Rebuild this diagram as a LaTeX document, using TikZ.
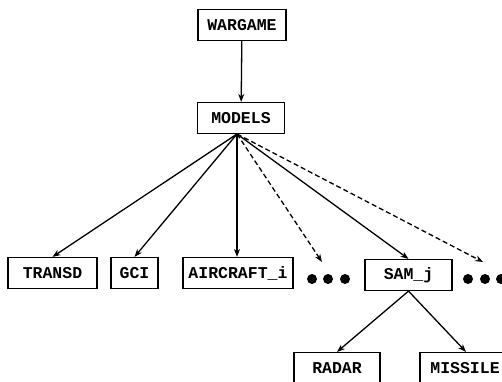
\documentclass[tikz,border=0pt]{standalone}
\usepackage{fontspec}
\newfontfamily\boxfont{Liberation Mono}
\usetikzlibrary{arrows.meta}

\begin{document}
\begin{tikzpicture}[x=1pt, y=-1pt,
        box/.style = {rectangle, draw, line width=1.2pt, inner sep=0pt,
                     minimum width=#1, minimum height=31pt,
                     font=\boxfont\bfseries\fontsize{16.5}{18}\selectfont},
        dot/.style = {circle, fill, inner sep=0pt, minimum size=10pt},
        tip/.style = {-{Stealth[length=8pt, width=6pt]}, line width=1.3pt},
       dtip/.style = {tip, dashed, dash pattern=on 5pt off 3pt}
                        ]
\useasboundingbox (0,0) rectangle (502,381);
\node (wargame) [box=88pt] at (242,25) {WARGAME};
\node (models) [box=87pt] at (241,118) {MODELS};
\node (transd) [box=89pt] at (52.5,273) {TRANSD};
\node (gci) [box=47pt] at (134.5,273) {GCI};
\node (aircraft) [box=110pt] at (238,273) {AIRCRAFT\_i};
\node (sam) [box=87pt] at (408.5,275) {SAM\_j};
\node (radar) [box=86pt] at (337,368) {RADAR};
\node (missile) [box=90pt] at (465,368) {MISSILE};
% dots
\node (d1) [dot] at (312,279) {};
\node (d2) [dot] at (328,279) {};
\node (d3) [dot] at (345,279) {};
\node (d4) [dot] at (468,279) {};
\node (d5) [dot] at (485,279) {};
\node (d6) [dot] at (501,279) {};
\coordinate (fork) at (237,134);
\coordinate (more1) at (322,262);
\coordinate (more2) at (483,262);
\draw[tip] (wargame) -- (models);
\draw[tip] (fork) -- (transd.north);
\draw[tip] (fork) -- (gci.north);
\draw[tip] (fork) -- (aircraft.north -| fork);
\draw[dtip] (fork) -- (more1);
\draw[tip] (fork) -- (sam.north);
\draw[dtip] (fork) -- (more2);
\draw[tip] (sam.south) -- (radar.north);
\draw[tip] (sam.south) -- ([xshift=1pt]missile.north);
\end{tikzpicture}
\end{document}
